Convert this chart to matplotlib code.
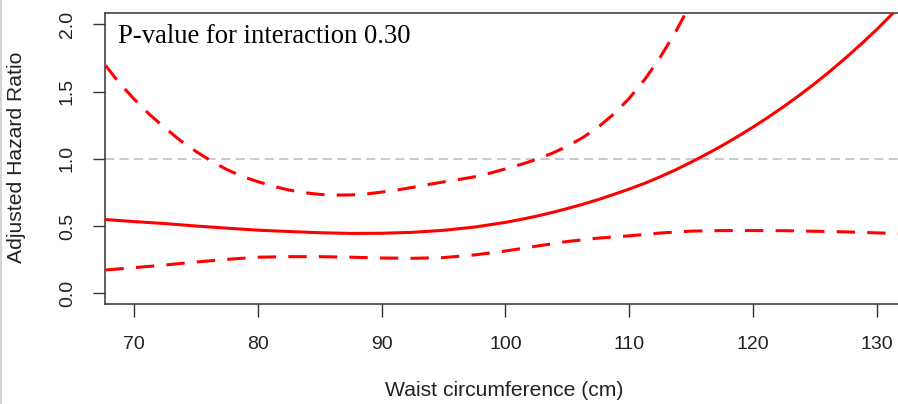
import numpy as np
import matplotlib
matplotlib.use("Agg")
from matplotlib import pyplot as plt
from matplotlib.lines import Line2D

# adjusted hazard ratio by waist circumference (cm)
waist_hr = [67.7, 70, 72.5, 75, 77.5, 80, 82.5, 85, 87.5, 90, 92.5, 95, 97.5,
            100, 101.25, 102.5, 103.75, 105, 106.25, 107.5, 108.75, 110,
            111.25, 112.5, 113.75, 115, 116.25, 117.5, 118.75, 120, 121.25,
            122.5, 123.75, 125, 126.25, 127.5, 128.75, 130, 131.7]
hr = [0.548, 0.533, 0.518, 0.500, 0.484, 0.469, 0.459, 0.450, 0.445, 0.446,
      0.453, 0.468, 0.492, 0.527, 0.549, 0.573, 0.600, 0.630, 0.662, 0.697,
      0.735, 0.775, 0.818, 0.866, 0.918, 0.975, 1.035, 1.098, 1.165, 1.236,
      1.311, 1.390, 1.473, 1.561, 1.654, 1.752, 1.855, 1.963, 2.120]

# lower 95% limit
waist_low = [67.7, 70, 72.5, 75, 77.5, 80, 82.5, 85, 87.5, 90, 92.5, 95, 97.5,
             100, 102.5, 105, 107.5, 110, 112.5, 115, 117.5, 120, 122.5, 125,
             127.5, 130, 131.7]
ci_low = [0.173, 0.190, 0.210, 0.232, 0.252, 0.268, 0.272, 0.272, 0.268,
          0.262, 0.260, 0.265, 0.285, 0.314, 0.350, 0.385, 0.410, 0.427,
          0.448, 0.462, 0.466, 0.466, 0.465, 0.461, 0.456, 0.449, 0.444]

# upper 95% limit (runs off the top near 115)
waist_up = [67.7, 68.75, 70, 71.25, 72.5, 73.75, 75, 76.25, 77.5, 78.75, 80,
            81.25, 82.5, 83.75, 85, 86.25, 87.5, 88.75, 90, 91.25, 92.5,
            93.75, 95, 96.25, 97.5, 98.75, 100, 101.25, 102.5, 103.75, 105,
            106.25, 107.5, 108.75, 110, 111.25, 112.5, 113.75, 115, 116]
ci_high = [1.695, 1.570, 1.445, 1.330, 1.230, 1.135, 1.055, 0.982, 0.920,
           0.868, 0.830, 0.795, 0.768, 0.748, 0.735, 0.730, 0.731, 0.738,
           0.752, 0.768, 0.787, 0.808, 0.828, 0.846, 0.866, 0.893, 0.925,
           0.958, 0.995, 1.040, 1.093, 1.158, 1.236, 1.333, 1.450, 1.590,
           1.755, 1.945, 2.160, 2.350]

x_ticks = [70, 80, 90, 100, 110, 120, 130]
y_ticks = [0.0, 0.5, 1.0, 1.5, 2.0]

sans = "Liberation Sans"
serif = "Liberation Serif"

W, H = 898, 404
fig = plt.figure(figsize=(W / 100, H / 100), dpi=100)
ax = fig.add_axes([105 / W, 1 - 304 / H, (W - 105) / W, 291 / H])

ax.axhline(1.0, color="#bbbbbb", lw=1.1, dashes=(6, 3.5), zorder=1)
ax.plot(waist_hr, hr, color="red", lw=2.2, zorder=3)
ax.plot(waist_low, ci_low, color="red", lw=2.2, dashes=(6, 4), zorder=3)
ax.plot(waist_up, ci_high, color="red", lw=2.2, dashes=(6, 4), zorder=3)

ax.set_xlim(67.66, 131.7)
ax.set_ylim(-0.08, 2.084)
ax.set_xticks(x_ticks)
ax.set_yticks(y_ticks)
ax.set_yticklabels([f"{v:.1f}" for v in y_ticks], rotation=90, va="center")

for side in ["left", "bottom", "top"]:
    ax.spines[side].set_color("#333333")
    ax.spines[side].set_linewidth(1.1)
ax.spines["right"].set_visible(False)

ax.tick_params(direction="out", length=9, width=1.0, color="#333333",
               labelsize=14, labelcolor="#222222")
ax.tick_params(axis="x", pad=14)
ax.tick_params(axis="y", pad=12)
for lab in ax.get_xticklabels() + ax.get_yticklabels():
    lab.set_family(sans)

fig.text(504 / W, 1 - 390 / H, "Waist circumference (cm)", ha="center",
         va="center", fontsize=15.2, family=sans, color="#222222")
fig.text(17 / W, 1 - 157 / H, "Adjusted Hazard Ratio", ha="center",
         va="center", rotation=90, fontsize=15.2, family=sans, color="#222222")
fig.text(118 / W, 1 - 43 / H, "P-value for interaction 0.30", ha="left",
         va="baseline", fontsize=19.2, family=serif, color="black")

# light frame line on the left edge
fig.add_artist(Line2D([1 / W, 1 / W], [0, 1], transform=fig.transFigure,
                      color="#d4d4d4", lw=1.5))

fig.savefig("out.png", dpi=100)
